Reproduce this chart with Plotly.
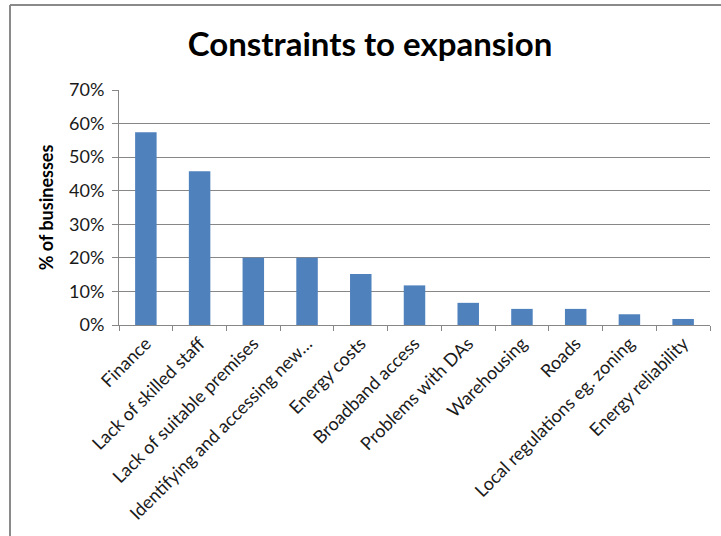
import plotly.graph_objects as go

# Survey results: share of businesses citing each constraint
categories = [
    "Finance",
    "Lack of skilled staff",
    "Lack of suitable premises",
    "Identifying and accessing new…",
    "Energy costs",
    "Broadband access",
    "Problems with DAs",
    "Warehousing",
    "Roads",
    "Local regulations eg. zoning",
    "Energy reliability",
]
share = [0.574, 0.458, 0.200, 0.200, 0.152, 0.118, 0.066, 0.048, 0.048, 0.032, 0.018]
y_ticks = [0, 0.1, 0.2, 0.3, 0.4, 0.5, 0.6, 0.7]

W, H = 721, 536
L, R, T, B = 119, 11, 90, 211
pw, ph = W - L - R, H - T - B

FONT = "Lato"
GRID = "#878787"
TEXT = "#1a1a1a"

fig = go.Figure(
    go.Bar(
        x=categories,
        y=share,
        marker=dict(color="#4F81BD", line=dict(width=0)),
        hoverinfo="x+y",
    )
)


def px_x(v):
    return (v - L) / pw


def px_y(v):
    return (H - B - v) / ph


# chart-area frame (left and top edges visible)
frame = dict(type="line", xref="paper", yref="paper",
             line=dict(color="#8a8a8a", width=2))
fig.add_shape(**frame, x0=px_x(10), x1=px_x(10), y0=px_y(5), y1=px_y(H + 5))
fig.add_shape(**frame, x0=px_x(10), x1=px_x(W + 5), y0=px_y(5), y1=px_y(5))

fig.update_layout(
    width=W,
    height=H,
    margin=dict(l=L, r=R, t=T, b=B, autoexpand=False),
    paper_bgcolor="white",
    plot_bgcolor="white",
    bargap=0.6,
    showlegend=False,
    font=dict(family=FONT, color=TEXT, size=18),
    title=dict(
        text="<b>Constraints to expansion</b>",
        font=dict(family=FONT, size=33, color="#000000"),
        x=370 / W,
        xanchor="center",
        xref="container",
        y=1 - 44 / H,
        yanchor="middle",
        yref="container",
    ),
    xaxis=dict(
        type="category",
        tickangle=-45,
        ticks="outside",
        tickson="boundaries",
        ticklen=5,
        tickcolor=GRID,
        showline=True,
        linecolor=GRID,
        linewidth=1,
        showgrid=False,
        tickfont=dict(family=FONT, size=18, color=TEXT),
    ),
    yaxis=dict(
        range=[0, 0.7],
        tickvals=y_ticks,
        tickformat=".0%",
        ticks="outside",
        ticklen=6,
        tickcolor=GRID,
        ticklabelstandoff=4,
        showline=True,
        linecolor=GRID,
        linewidth=1,
        showgrid=True,
        gridcolor=GRID,
        gridwidth=1,
        zeroline=False,
        tickfont=dict(family=FONT, size=18, color=TEXT),
        title=dict(
            text="<b>% of businesses</b>",
            font=dict(family=FONT, size=18, color="#000000"),
            standoff=10,
        ),
    ),
)

fig.write_html("out.html")
